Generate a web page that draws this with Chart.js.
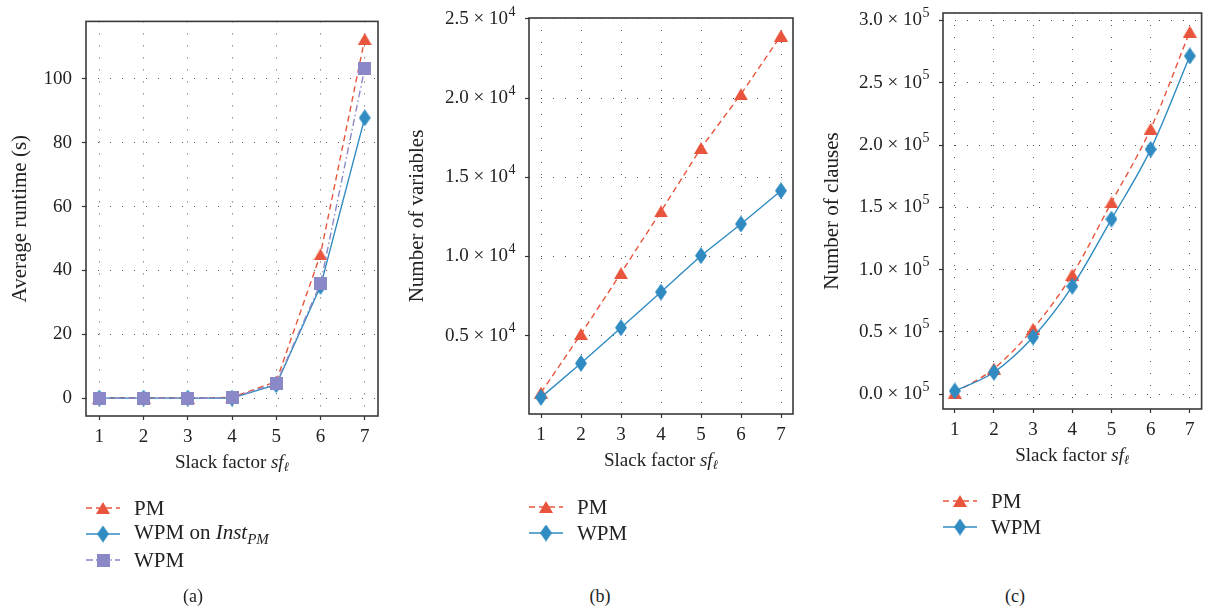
<!DOCTYPE html>
<html>
<head>
<meta charset="utf-8">
<script src="https://cdn.jsdelivr.net/npm/chart.js@4.4.0/dist/chart.umd.min.js"></script>
<style>
body { margin: 0; background: #fff; width: 1210px; height: 610px; position: relative; overflow: hidden; font-family: "Liberation Serif", serif; color: #222; }
canvas.plot { position: absolute; top: 0; }
.legend { position: absolute; font-size: 21px; }
.legend div { height: 26px; display: flex; align-items: center; white-space: nowrap; }
.legend canvas { margin-right: 14px; }
.legend sub { font-size: 15px; vertical-align: -5px; font-style: italic; }
.caption { position: absolute; width: 60px; text-align: center; font-size: 18px; top: 586px; }
</style>
</head>
<body>
<canvas class="plot" id="chart_a" width="400" height="480" style="left:0px"></canvas>
<canvas class="plot" id="chart_b" width="410" height="480" style="left:400px"></canvas>
<canvas class="plot" id="chart_c" width="400" height="480" style="left:810px"></canvas>

<div class="legend" id="legend_a" style="left:86px; top:495px"></div>
<div class="legend" id="legend_b" style="left:529px; top:494px"></div>
<div class="legend" id="legend_c" style="left:943px; top:488px"></div>

<div class="caption" style="left:163px">(a)</div>
<div class="caption" style="left:570px">(b)</div>
<div class="caption" style="left:985px">(c)</div>

<script>
// slack factor values on the x axis
const sf = [1, 2, 3, 4, 5, 6, 7]

// (a) average runtime in seconds
const runtimePM = [0.1, 0.1, 0.1, 0.2, 5.2, 45, 112.5]
const runtimeWPMonInst = [0, 0, 0, 0, 4.2, 35, 87.8]
const runtimeWPM = [0, 0, 0, 0.1, 4.6, 35.8, 103.3]
const runtimeTicks = [0, 20, 40, 60, 80, 100]

// (b) number of variables
const variablesPM = [1400, 5100, 8950, 12850, 16850, 20250, 23950]
const variablesWPM = [1100, 3250, 5500, 7750, 10050, 12050, 14150]
const variablesTicks = [5000, 10000, 15000, 20000, 25000]

// (c) number of clauses
const clausesPM = [1000, 20500, 52500, 96000, 154000, 213000, 291000]
const clausesWPM = [2500, 17500, 45800, 86500, 140500, 196500, 271500]
const clausesTicks = [0, 50000, 100000, 150000, 200000, 250000, 300000]

const RED = '#e9553c'
const BLUE = '#2f8bc1'
const PURPLE = '#8b88c8'
const FONT = '"Liberation Serif", serif'

function markerImage(shape, color) {
    let c = document.createElement("canvas")
    let w = 14, h = 12
    if (shape == "diamond") { w = 12; h = 17 }
    if (shape == "square") { w = 13; h = 13 }
    c.width = w
    c.height = h
    let ctx = c.getContext("2d")
    ctx.fillStyle = color
    ctx.beginPath()
    if (shape == "triangle") {
        ctx.moveTo(w / 2, 0); ctx.lineTo(w, h); ctx.lineTo(0, h)
    } else if (shape == "diamond") {
        ctx.moveTo(w / 2, 0); ctx.lineTo(w, h / 2); ctx.lineTo(w / 2, h); ctx.lineTo(0, h / 2)
    } else {
        ctx.rect(0, 0, w, h)
    }
    ctx.closePath()
    ctx.fill()
    return c
}

const triangle = markerImage("triangle", RED)
const diamond = markerImage("diamond", BLUE)
const square = markerImage("square", PURPLE)

const DASH_PM = [6, 4]
const DASH_WPM = [7, 3, 1.5, 3]

function toPoints(values) {
    return sf.map((x, i) => ({x: x, y: values[i]}))
}

const framePlugin = {
    id: 'frame',
    beforeDatasetsDraw(chart) {
        let a = chart.chartArea, ctx = chart.ctx
        ctx.save()
        ctx.strokeStyle = '#3a3a3a'
        ctx.lineWidth = 1.6
        ctx.strokeRect(a.left, a.top, a.right - a.left, a.bottom - a.top)
        ctx.restore()
    }
}

const xTitlePlugin = {
    id: 'xTitle',
    afterDraw(chart) {
        let ctx = chart.ctx, a = chart.chartArea
        let y = a.bottom + 47
        let parts = [
            ['Slack factor ', '19px ' + FONT, 0],
            ['sf', 'italic 19px ' + FONT, 0],
            ['\u2113', 'italic 13px ' + FONT, 5]
        ]
        ctx.save()
        ctx.textBaseline = 'middle'
        ctx.textAlign = 'left'
        ctx.fillStyle = '#222'
        let total = 0
        parts.forEach(p => { ctx.font = p[1]; total += ctx.measureText(p[0]).width })
        let x = (a.left + a.right) / 2 - total / 2
        parts.forEach(p => {
            ctx.font = p[1]
            ctx.fillText(p[0], x, y + p[2])
            x += ctx.measureText(p[0]).width
        })
        ctx.restore()
    }
}

// y tick labels like "2.5 × 10^4" with a real superscript
const sciTicksPlugin = {
    id: 'sciTicks',
    afterDraw(chart, args, opts) {
        if (!opts.exp) return
        let s = chart.scales.y, ctx = chart.ctx
        let right = s.right - 4 - 10
        ctx.save()
        ctx.fillStyle = '#222'
        ctx.textBaseline = 'middle'
        ctx.textAlign = 'left'
        s.ticks.forEach(t => {
            let y = s.getPixelForValue(t.value)
            let base = (t.value / Math.pow(10, opts.exp)).toFixed(1) + ' \u00d7 10'
            let sup = String(opts.exp)
            ctx.font = '19px ' + FONT
            let wb = ctx.measureText(base).width
            ctx.font = '14px ' + FONT
            let ws = ctx.measureText(sup).width
            let x = right - wb - ws
            ctx.font = '19px ' + FONT
            ctx.fillText(base, x, y)
            ctx.font = '14px ' + FONT
            ctx.fillText(sup, x + wb + 0.5, y - 7)
        })
        ctx.restore()
    }
}

function makeDataset(label, values, color, marker, dash, order, curved) {
    return {
        label: label,
        data: toPoints(values),
        borderColor: color,
        backgroundColor: color,
        borderWidth: 1.4,
        borderDash: dash,
        pointStyle: marker,
        pointRadius: 7,
        pointHoverRadius: 7,
        order: order,
        cubicInterpolationMode: curved ? 'monotone' : 'default',
        tension: 0
    }
}

function makeChart(id, datasets, yTitle, yOpts, layout) {
    return new Chart(document.getElementById(id).getContext('2d'), {
        type: 'line',
        data: { datasets: datasets },
        options: {
            responsive: false,
            animation: false,
            devicePixelRatio: 1,
            layout: { padding: { top: layout.top, right: layout.right, left: 0, bottom: 0 } },
            plugins: { legend: { display: false }, tooltip: { enabled: false }, sciTicks: { exp: yOpts.exp } },
            scales: {
                x: {
                    type: 'linear',
                    min: 0.7,
                    max: 7.3,
                    afterFit(scale) { scale.height = layout.xHeight },
                    afterBuildTicks(scale) { scale.ticks = sf.map(v => ({value: v})) },
                    ticks: { padding: 6, color: '#222', font: { family: FONT, size: 19 } },
                    grid: { color: '#555', lineWidth: 1, tickColor: '#333', tickLength: 4, tickWidth: 1.2, tickBorderDash: [] },
                    border: { display: false, dash: [1, 11] }
                },
                y: {
                    min: yOpts.min,
                    max: yOpts.max,
                    afterFit(scale) { scale.width = layout.yWidth },
                    afterBuildTicks(scale) { scale.ticks = yOpts.ticks.map(v => ({value: v})) },
                    title: { display: true, text: yTitle, color: '#222', font: { family: FONT, size: 21 }, padding: { top: layout.titlePad, bottom: 0 } },
                    ticks: { display: !yOpts.exp, padding: 10, color: '#222', font: { family: FONT, size: 19 } },
                    grid: { color: '#555', lineWidth: 1, tickColor: '#333', tickLength: 4, tickWidth: 1.2, tickBorderDash: [] },
                    border: { display: false, dash: [1, 11] }
                }
            }
        },
        plugins: [framePlugin, xTitlePlugin, sciTicksPlugin]
    })
}

makeChart("chart_a", [
    makeDataset('PM', runtimePM, RED, triangle, DASH_PM, 3, false),
    makeDataset('WPM on Inst', runtimeWPMonInst, BLUE, diamond, [], 2, false),
    makeDataset('WPM', runtimeWPM, PURPLE, square, DASH_WPM, 1, false)
], 'Average runtime (s)', { min: -5.6, max: 118, ticks: runtimeTicks, exp: 0 },
   { top: 20, right: 22, yWidth: 86, xHeight: 64, titlePad: 8 })

makeChart("chart_b", [
    makeDataset('PM', variablesPM, RED, triangle, DASH_PM, 2, false),
    makeDataset('WPM', variablesWPM, BLUE, diamond, [], 1, false)
], 'Number of variables', { min: 50, max: 25060, ticks: variablesTicks, exp: 4 },
   { top: 18, right: 17, yWidth: 129, xHeight: 66, titlePad: 5 })

makeChart("chart_c", [
    makeDataset('PM', clausesPM, RED, triangle, DASH_PM, 2, true),
    makeDataset('WPM', clausesWPM, BLUE, diamond, [], 1, true)
], 'Number of clauses', { min: -12000, max: 306000, ticks: clausesTicks, exp: 5 },
   { top: 13, right: 1, yWidth: 133, xHeight: 71, titlePad: 10 })

// legends: line segment with the marker in the middle, then the label
function legendIcon(color, marker, dash) {
    let c = document.createElement("canvas")
    c.width = 34
    c.height = 18
    let ctx = c.getContext("2d")
    ctx.strokeStyle = color
    ctx.lineWidth = 1.4
    ctx.setLineDash(dash)
    ctx.beginPath()
    ctx.moveTo(0, 9)
    ctx.lineTo(34, 9)
    ctx.stroke()
    ctx.drawImage(marker, 17 - marker.width / 2, 9 - marker.height / 2)
    return c
}

function addLegendRow(legendId, color, marker, dash, html) {
    let row = document.createElement("div")
    row.appendChild(legendIcon(color, marker, dash))
    let text = document.createElement("span")
    text.innerHTML = html
    row.appendChild(text)
    document.getElementById(legendId).appendChild(row)
}

addLegendRow("legend_a", RED, triangle, DASH_PM, "PM")
addLegendRow("legend_a", BLUE, diamond, [], "WPM on <i>Inst</i><sub>PM</sub>")
addLegendRow("legend_a", PURPLE, square, DASH_WPM, "WPM")
addLegendRow("legend_b", RED, triangle, DASH_PM, "PM")
addLegendRow("legend_b", BLUE, diamond, [], "WPM")
addLegendRow("legend_c", RED, triangle, DASH_PM, "PM")
addLegendRow("legend_c", BLUE, diamond, [], "WPM")
</script>
</body>
</html>
